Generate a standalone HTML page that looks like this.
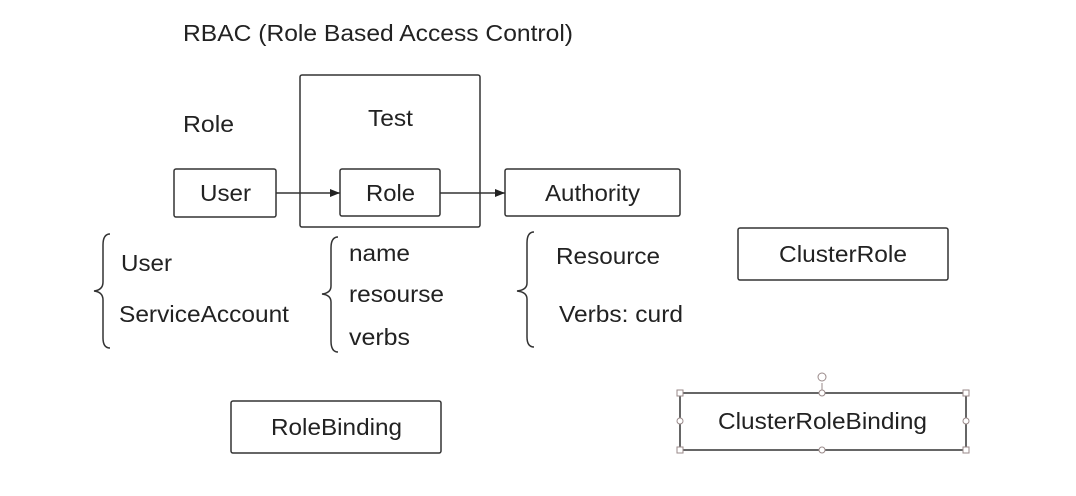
<!DOCTYPE html>
<html><head><meta charset="utf-8"><style>
html,body{margin:0;padding:0;background:#fff;}
svg{display:block;}
text{font-family:"Liberation Sans",sans-serif;fill:#222;font-size:23px;}
</style></head><body>
<svg width="1076" height="496" viewBox="0 0 1076 496" xmlns="http://www.w3.org/2000/svg">
<defs><marker id="a" markerWidth="10" markerHeight="8" refX="10" refY="4" orient="auto" markerUnits="userSpaceOnUse"><path d="M0,0 L10,4 L0,8 Z" fill="#222"/></marker></defs>
<g fill="none" stroke="#333" stroke-width="1.5">
<rect x="300" y="75" width="180" height="152" rx="2"/>
<rect x="174" y="169" width="102" height="48" rx="2"/>
<rect x="340" y="169" width="100" height="47" rx="2"/>
<rect x="505" y="169" width="175" height="47" rx="2"/>
<rect x="738" y="228" width="210" height="52" rx="2"/>
<rect x="231" y="401" width="210" height="52" rx="2"/>
<rect x="680" y="393" width="286" height="57"/>
<line x1="276" y1="193" x2="340" y2="193" marker-end="url(#a)"/>
<line x1="440" y1="193" x2="505" y2="193" marker-end="url(#a)"/>
<path d="M110,234 Q103,234 103,245 L103,282 Q103,290 94,291 Q103,292 103,300 L103,338 Q103,348 110,348"/>
<path d="M338,237 Q331,237 331,248 L331,286 Q331,293 322,294 Q331,295 331,302 L331,341 Q331,352 338,352"/>
<path d="M534,232 Q527,232 527,243 L527,283 Q527,290 517,291 Q527,292 527,299 L527,337 Q527,347 534,347"/>
</g>
<g fill="#fff" stroke="#9a8a8a" stroke-width="1">
<line x1="822" y1="383" x2="822" y2="393"/>
<circle cx="822" cy="377" r="4"/>
<rect x="677" y="390" width="6" height="6"/><rect x="963" y="390" width="6" height="6"/>
<rect x="677" y="447" width="6" height="6"/><rect x="963" y="447" width="6" height="6"/>
<circle cx="822" cy="393" r="3"/><circle cx="822" cy="450" r="3"/>
<circle cx="680" cy="421" r="3"/><circle cx="966" cy="421" r="3"/>
</g>
<g>
<text x="183" y="41" font-size="22" textLength="390" lengthAdjust="spacingAndGlyphs">RBAC (Role Based Access Control)</text>
<text x="183" y="132" textLength="51" lengthAdjust="spacingAndGlyphs">Role</text>
<text x="368" y="126" textLength="45" lengthAdjust="spacingAndGlyphs">Test</text>
<text x="200" y="201" textLength="51" lengthAdjust="spacingAndGlyphs">User</text>
<text x="366" y="201" textLength="49" lengthAdjust="spacingAndGlyphs">Role</text>
<text x="545" y="201" textLength="95" lengthAdjust="spacingAndGlyphs">Authority</text>
<text x="779" y="262" textLength="128" lengthAdjust="spacingAndGlyphs">ClusterRole</text>
<text x="271" y="435" textLength="131" lengthAdjust="spacingAndGlyphs">RoleBinding</text>
<text x="718" y="429" textLength="209" lengthAdjust="spacingAndGlyphs">ClusterRoleBinding</text>
<text x="121" y="271" textLength="51" lengthAdjust="spacingAndGlyphs">User</text>
<text x="119" y="322" textLength="170" lengthAdjust="spacingAndGlyphs">ServiceAccount</text>
<text x="349" y="261" textLength="61" lengthAdjust="spacingAndGlyphs">name</text>
<text x="349" y="302" textLength="95" lengthAdjust="spacingAndGlyphs">resourse</text>
<text x="349" y="345" textLength="61" lengthAdjust="spacingAndGlyphs">verbs</text>
<text x="556" y="264" textLength="104" lengthAdjust="spacingAndGlyphs">Resource</text>
<text x="559" y="322" textLength="124" lengthAdjust="spacingAndGlyphs">Verbs: curd</text>
</g>
</svg>
</body></html>
